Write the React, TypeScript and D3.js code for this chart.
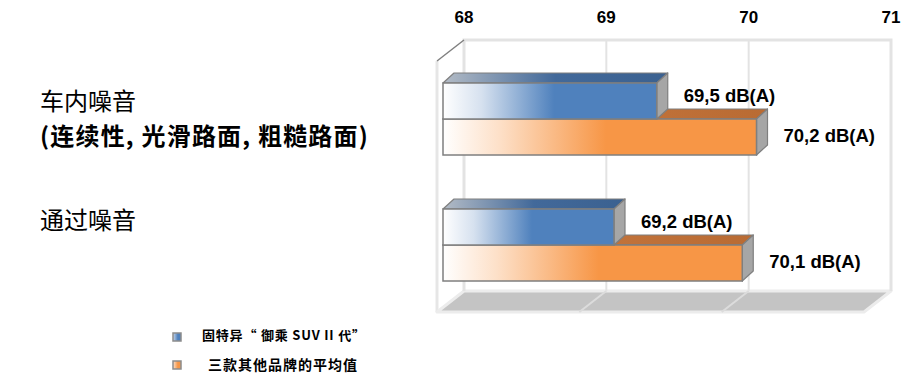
import React from "react";
import * as d3 from "d3";

const categories = ["车内噪音", "通过噪音"];
const categorySubtitles = ["(连续性, 光滑路面, 粗糙路面)", ""];
const seriesNames = ["固特异“ 御乘 SUV II 代”", "三款其他品牌的平均值"];
const goodyearValues = [69.5, 69.2];
const otherBrandsValues = [70.2, 70.1];
const axisTicks = [68, 69, 70, 71];

const W = 918;
const H = 375;

const LATIN = "Arial, 'Liberation Sans', sans-serif";
const CJK = "'Noto Sans CJK SC', sans-serif";

export default function App() {
  // 3D box geometry
  const wallTop = 40;
  const wallBottom = 291;
  const boxDepth = { x: -27, y: 21 };
  const backX = d3.scaleLinear().domain([68, 71]).range([464, 891]);
  const frontX = d3.scaleLinear().domain([68, 71]).range([443, 870.5]);
  const barDepth = { x: 11, y: -10 };

  const yBand = d3
    .scaleBand<string>()
    .domain(categories)
    .range([56, 308])
    .paddingInner(54 / 126)
    .paddingOuter(27 / 126);
  const inner = d3
    .scaleBand<number>()
    .domain([0, 1])
    .range([0, yBand.bandwidth()])
    .padding(0);

  const series = [
    { name: seriesNames[0], values: goodyearValues, key: "blue", labelShift: -6 },
    { name: seriesNames[1], values: otherBrandsValues, key: "orange", labelShift: -2 },
  ];

  const fmt = (v: number) => d3.format(".1f")(v).replace(".", ",") + " dB(A)";

  const bars: any[] = [];
  categories.forEach((c, ci) => {
    // draw lower (orange) first, then blue on top
    [1, 0].forEach((si) => {
      const v = series[si].values[ci];
      const y0 = (yBand(c) as number) + (inner(si) as number);
      const h = inner.bandwidth();
      const x0 = frontX(68);
      const x1 = frontX(v);
      const dx = barDepth.x;
      const dy = barDepth.y;
      const key = series[si].key;
      bars.push(
        <g key={`${ci}-${si}`}>
          <polygon
            points={`${x0},${y0} ${x0 + dx},${y0 + dy} ${x1 + dx},${y0 + dy} ${x1},${y0}`}
            fill={`url(#top-${key})`}
            stroke="#7f7f7f"
            strokeWidth={1.2}
            strokeLinejoin="round"
          />
          <polygon
            points={`${x1},${y0} ${x1 + dx},${y0 + dy} ${x1 + dx},${y0 + h + dy} ${x1},${y0 + h}`}
            fill="#a6a6a6"
            stroke="#7f7f7f"
            strokeWidth={1.2}
            strokeLinejoin="round"
          />
          <rect
            x={x0}
            y={y0}
            width={x1 - x0}
            height={h}
            fill={`url(#front-${key})`}
            stroke="#7f7f7f"
            strokeWidth={1.5}
          />
          <text
            x={x1 + dx + 16}
            y={y0 + h / 2 + series[si].labelShift}
            dominantBaseline="central"
            fontFamily={LATIN}
            fontWeight="bold"
            fontSize={18.5}
            fill="#000"
          >
            {fmt(v)}
          </text>
        </g>
      );
    });
  });

  const gridTicks = axisTicks.filter((t) => t !== 68 && t !== 71);

  return (
    <svg
      width={W}
      height={H}
      viewBox={`0 0 ${W} ${H}`}
      style={{ position: "absolute", left: 0, top: 0, background: "#fff" }}
    >
      <defs>
        <linearGradient id="front-blue" x1="0" x2="1" y1="0" y2="0">
          <stop offset="0" stopColor="#ffffff" />
          <stop offset="0.18" stopColor="#d6e1ef" />
          <stop offset="0.52" stopColor="#4f81bd" />
          <stop offset="1" stopColor="#4f81bd" />
        </linearGradient>
        <linearGradient id="front-orange" x1="0" x2="1" y1="0" y2="0">
          <stop offset="0" stopColor="#ffffff" />
          <stop offset="0.18" stopColor="#fde0c8" />
          <stop offset="0.52" stopColor="#f79646" />
          <stop offset="1" stopColor="#f79646" />
        </linearGradient>
        <linearGradient id="top-blue" x1="0" x2="1" y1="0" y2="0">
          <stop offset="0" stopColor="#b4bcc6" />
          <stop offset="0.5" stopColor="#42699a" />
          <stop offset="1" stopColor="#3b6190" />
        </linearGradient>
        <linearGradient id="top-orange" x1="0" x2="1" y1="0" y2="0">
          <stop offset="0" stopColor="#d8cbc0" />
          <stop offset="0.5" stopColor="#c2733b" />
          <stop offset="1" stopColor="#b96b33" />
        </linearGradient>
        <linearGradient id="legend-blue" x1="0" x2="1" y1="0" y2="0">
          <stop offset="0" stopColor="#c9d8ec" />
          <stop offset="0.6" stopColor="#4f81bd" />
          <stop offset="1" stopColor="#4f81bd" />
        </linearGradient>
        <linearGradient id="legend-orange" x1="0" x2="1" y1="0" y2="0">
          <stop offset="0" stopColor="#fde3cf" />
          <stop offset="0.6" stopColor="#f79646" />
          <stop offset="1" stopColor="#f79646" />
        </linearGradient>
      </defs>

      {/* top axis labels */}
      {axisTicks.map((t) => (
        <text
          key={t}
          x={backX(t)}
          y={23}
          textAnchor="middle"
          fontFamily={LATIN}
          fontWeight="bold"
          fontSize={17}
          fill="#000"
        >
          {t}
        </text>
      ))}

      {/* side wall */}
      <polygon
        points={`${backX(68)},${wallTop} ${backX(68) + boxDepth.x},${wallTop + boxDepth.y} ${backX(68) + boxDepth.x},${wallBottom + boxDepth.y} ${backX(68)},${wallBottom}`}
        fill="#ffffff"
      />
      <line
        x1={backX(68) + boxDepth.x}
        x2={backX(68) + boxDepth.x}
        y1={wallTop + boxDepth.y}
        y2={wallBottom + boxDepth.y}
        stroke="#e6e6e6"
        strokeWidth={3}
      />

      {/* floor */}
      <polygon
        points={`${backX(68)},${wallBottom} ${backX(71)},${wallBottom} ${backX(71) + boxDepth.x},${wallBottom + boxDepth.y} ${backX(68) + boxDepth.x},${wallBottom + boxDepth.y}`}
        fill="#c4c4c4"
        stroke="#ececec"
        strokeWidth={3}
        strokeLinejoin="round"
      />
      {gridTicks.map((t) => (
        <line
          key={`fg-${t}`}
          x1={backX(t)}
          y1={wallBottom}
          x2={backX(t) + boxDepth.x}
          y2={wallBottom + boxDepth.y}
          stroke="#dcdcdc"
          strokeWidth={2}
        />
      ))}

      {/* back wall */}
      {gridTicks.map((t) => (
        <line
          key={`g-${t}`}
          x1={backX(t)}
          x2={backX(t)}
          y1={wallTop}
          y2={wallBottom}
          stroke="#e3e3e3"
          strokeWidth={2}
        />
      ))}
      <polyline
        points={`${backX(68)},${wallBottom} ${backX(68)},${wallTop} ${backX(71)},${wallTop} ${backX(71)},${wallBottom}`}
        fill="none"
        stroke="#e3e3e3"
        strokeWidth={3}
      />
      <line
        x1={backX(68)}
        y1={wallTop}
        x2={backX(68) + boxDepth.x}
        y2={wallTop + boxDepth.y}
        stroke="#808080"
        strokeWidth={1.5}
      />

      {/* bars */}
      {bars}

      {/* category labels */}
      {categories.map((c, i) => (
        <g key={c}>
          <text
            x={40}
            y={i === 0 ? 99 : 218}
            dominantBaseline="central"
            fontFamily={CJK}
            fontSize={24}
            fill="#000"
          >
            {c}
          </text>
          {categorySubtitles[i] && (
            <text
              x={40}
              y={134}
              dominantBaseline="central"
              fontFamily={CJK}
              fontWeight="bold"
              fontSize={24}
              letterSpacing={1.2}
              fill="#000"
            >
              {categorySubtitles[i]}
            </text>
          )}
        </g>
      ))}

      {/* legend */}
      {series.map((s, i) => (
        <g key={s.key}>
          <rect
            x={173}
            y={i === 0 ? 333 : 361}
            width={8}
            height={8}
            fill={`url(#legend-${s.key})`}
            stroke="#8c8c8c"
            strokeWidth={1.5}
          />
          <text
            x={i === 0 ? 202 : 208}
            y={i === 0 ? 334 : 364}
            dominantBaseline="central"
            fontFamily={CJK}
            fontWeight="bold"
            fontSize={i === 0 ? 13 : 14}
            letterSpacing={i === 0 ? 0.8 : 1}
            fill="#000"
          >
            {s.name}
          </text>
        </g>
      ))}
    </svg>
  );
}
